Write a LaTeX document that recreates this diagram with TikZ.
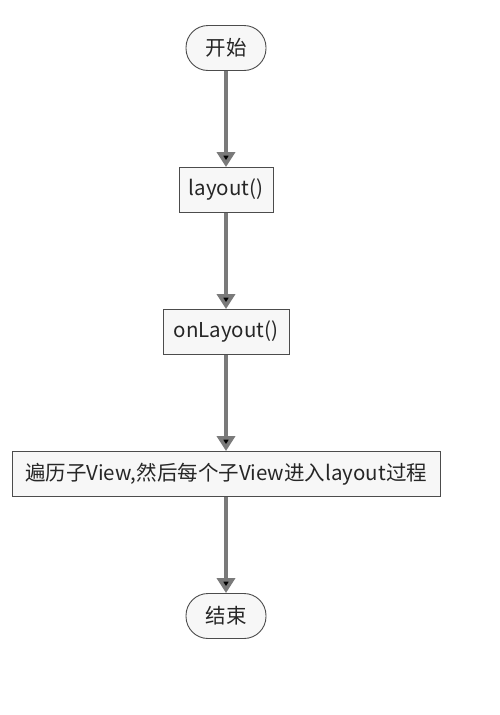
\documentclass[tikz,border=0pt]{standalone}
\usepackage{fontspec}
\newfontfamily\cjk{Noto Sans CJK SC}
\usetikzlibrary{positioning,arrows.meta}
\definecolor{flowgray}{HTML}{7A7A7A}
\definecolor{boxfill}{HTML}{F7F7F7}

\begin{document}
\begin{tikzpicture}[node distance=142pt, on grid,
    font=\cjk\fontsize{20.5}{24}\selectfont,
    terminal/.style={draw=black!70, fill=boxfill, text=black!85, line width=0.9pt,
      rounded corners=22pt, minimum width=80pt, minimum height=45pt},
    process/.style={draw=black!70, fill=boxfill, text=black!85, line width=0.9pt,
      minimum height=45pt},
    flow/.style={draw=flowgray, line width=3.6pt,
      -{Triangle[width=18pt,length=15pt]}}]
    \useasboundingbox (0,0) rectangle (499pt,-715pt);
    \node[terminal] (start) at (226pt,-48pt) {开始};%
    \node[process, minimum width=94pt] (layout) [below=of start] {layout()};%
    \node[process, minimum width=126pt] (onlayout) [below=of layout] {onLayout()};%
    \node[process, minimum width=428pt] (traverse) [below=of onlayout]
    {遍历子View,然后每个子View进入layout过程};%
    \node[terminal] (finish) [below=of traverse] {结束};%
    \path[flow] (start) edge (layout)%
    (layout) edge (onlayout)%
    (onlayout) edge (traverse)%
    (traverse) edge (finish);%
  \end{tikzpicture}
\end{document}
